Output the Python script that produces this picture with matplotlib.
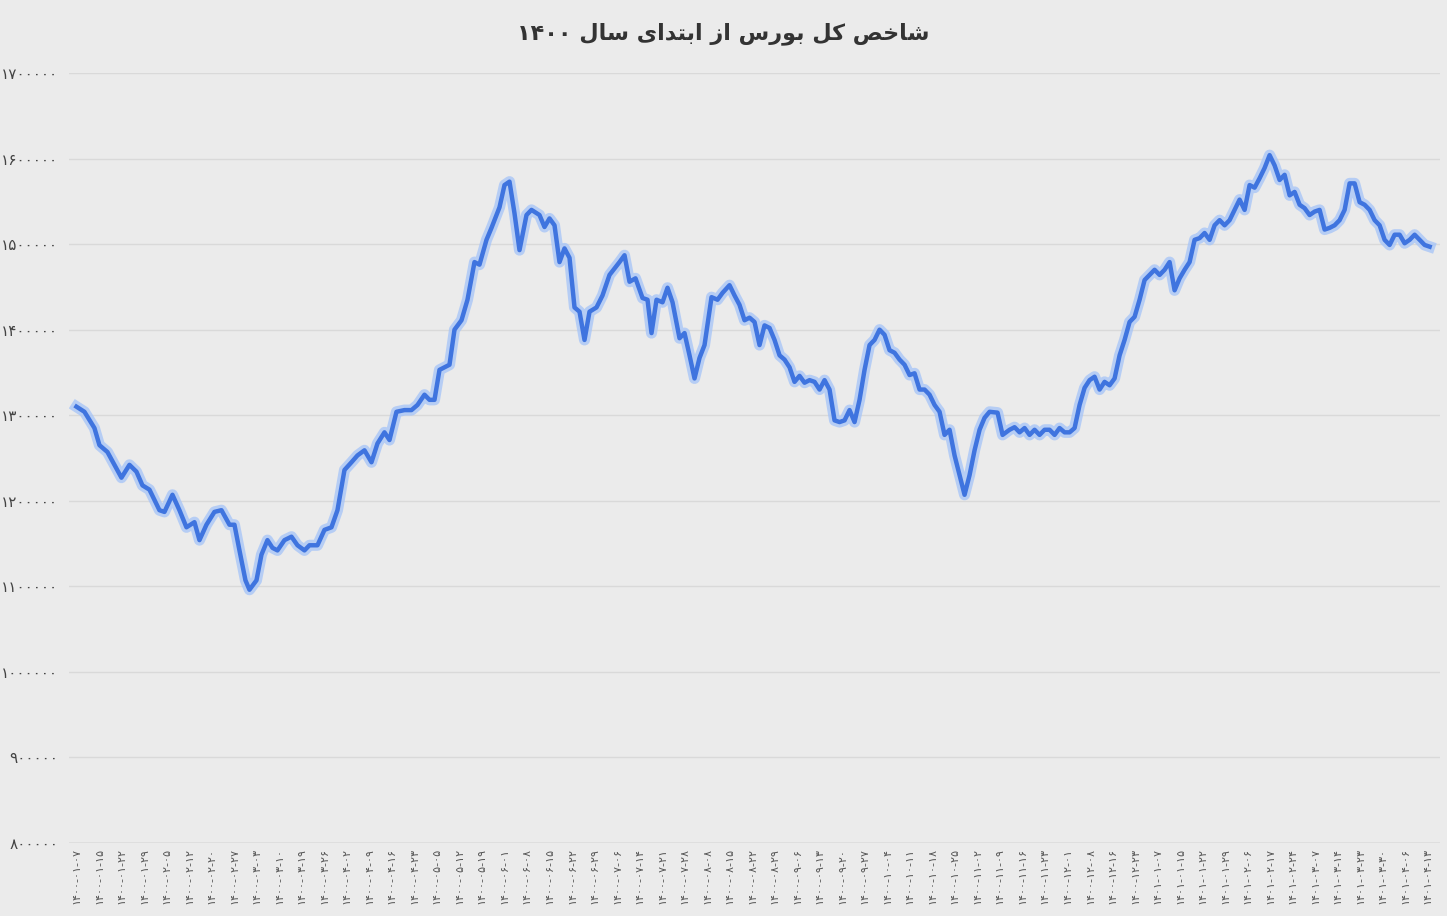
import numpy as np
import matplotlib
matplotlib.use("Agg")
import matplotlib.pyplot as plt

# readings: horizontal reading position (pixels along the date axis) and index value (thousands)
read_pos = [77,85,95,100,108,115,122,130,137,143,150,160,165,173,180,187,195,200,207,215,
222,230,235,240,246,250,257,262,268,273,278,285,292,298,305,310,318,325,332,338,
345,352,358,365,372,378,385,390,397,405,412,418,425,430,435,440,445,450,455,462,
468,475,480,487,492,500,505,510,515,520,527,532,540,545,550,555,560,565,570,575,
580,585,590,597,603,610,620,625,630,636,643,648,652,657,663,668,673,680,685,690,
695,700,705,712,718,723,730,735,740,745,750,755,760,765,770,775,780,785,790,795,
800,805,810,815,820,825,830,835,840,845,850,855,860,865,870,875,880,885,890,895,
900,905,910,915,920,925,930,935,940,945,950,955,960,965,970,975,980,985,990,998,
1003,1010,1015,1020,1025,1030,1035,1040,1045,1050,1055,1060,1065,1070,1075,1080,1085,1090,1095,1100,
1105,1110,1115,1120,1125,1130,1135,1140,1145,1150,1155,1160,1165,1170,1175,1180,1185,1190,1195,1200,
1205,1210,1215,1220,1225,1230,1235,1240,1245,1250,1255,1260,1265,1270,1275,1280,1285,1290,1295,1300,
1305,1310,1315,1320,1325,1330,1335,1340,1345,1350,1355,1360,1365,1370,1375,1380,1385,1390,1395,1400,
1405,1410,1415,1420,1425,1430]
values_k = [1310,1304,1285,1265,1257,1242,1227,1242,1234,1218,1213,1189,1187,1207,1189,1169,1175,1154,1172,1187,
1189,1172,1172,1142,1107,1096,1107,1137,1154,1145,1142,1154,1158,1148,1142,1148,1148,1166,1169,1189,
1236,1245,1253,1259,1245,1267,1280,1271,1304,1306,1306,1312,1324,1318,1318,1353,1356,1359,1400,1411,
1435,1479,1476,1505,1519,1543,1569,1573,1536,1493,1534,1540,1534,1520,1530,1522,1479,1495,1484,1426,
1421,1388,1421,1426,1440,1464,1479,1487,1456,1460,1437,1435,1396,1435,1432,1449,1432,1390,1396,1370,
1343,1367,1382,1438,1435,1443,1452,1440,1429,1411,1414,1409,1382,1405,1402,1388,1370,1365,1356,1339,
1346,1338,1341,1339,1330,1341,1330,1294,1292,1294,1306,1292,1318,1353,1382,1388,1400,1394,1376,1373,
1365,1359,1347,1349,1330,1330,1324,1312,1304,1277,1283,1253,1230,1207,1230,1259,1283,1297,1304,1303,
1277,1283,1286,1280,1285,1277,1283,1277,1283,1283,1277,1285,1280,1280,1285,1312,1332,1341,1345,1330,
1339,1335,1343,1370,1388,1409,1415,1435,1458,1464,1470,1464,1470,1479,1446,1460,1470,1479,1505,1507,
1513,1505,1522,1528,1522,1528,1540,1552,1540,1569,1566,1577,1589,1604,1592,1575,1581,1557,1561,1546,
1542,1534,1538,1540,1517,1519,1522,1528,1540,1571,1571,1549,1546,1540,1528,1522,1505,1499,1511,1511,
1501,1505,1511,1505,1499,1497]

date_labels = ["1400-01-07","1400-01-15","1400-01-22","1400-01-29","1400-02-05","1400-02-12","1400-02-20",
"1400-02-27","1400-03-03","1400-03-10","1400-03-19","1400-03-26","1400-04-02","1400-04-09","1400-04-16",
"1400-04-23","1400-05-05","1400-05-12","1400-05-19","1400-06-01","1400-06-08","1400-06-15","1400-06-22",
"1400-06-29","1400-07-06","1400-07-14","1400-07-21","1400-07-28","1400-08-08","1400-08-15","1400-08-22",
"1400-08-29","1400-09-06","1400-09-13","1400-09-20","1400-09-27","1400-10-04","1400-10-11","1400-10-18",
"1400-10-25","1400-11-02","1400-11-09","1400-11-16","1400-11-23","1400-12-01","1400-12-08","1400-12-16",
"1400-12-23","1401-01-07","1401-01-15","1401-01-22","1401-01-29","1401-02-06","1401-02-17","1401-02-24",
"1401-03-07","1401-03-14","1401-03-23","1401-03-30","1401-04-06","1401-04-13"]
yticks = [800000,900000,1000000,1100000,1200000,1300000,1400000,1500000,1600000,1700000]

values = np.array(values_k) * 1000
# reading position -> date-label index (first label at 77, 22.52 per label)
x = (np.array(read_pos) - 77) / 22.52

fa = str.maketrans("0123456789", "۰۱۲۳۴۵۶۷۸۹")

forms = {
 'ا':('\uFE8D','\uFE8E',None,None),'ب':('\uFE8F','\uFE90','\uFE91','\uFE92'),
 'ت':('\uFE95','\uFE96','\uFE97','\uFE98'),'خ':('\uFEA5','\uFEA6','\uFEA7','\uFEA8'),
 'د':('\uFEA9','\uFEAA',None,None),'ر':('\uFEAD','\uFEAE',None,None),'ز':('\uFEAF','\uFEB0',None,None),
 'س':('\uFEB1','\uFEB2','\uFEB3','\uFEB4'),'ش':('\uFEB5','\uFEB6','\uFEB7','\uFEB8'),
 'ص':('\uFEB9','\uFEBA','\uFEBB','\uFEBC'),'ل':('\uFEDD','\uFEDE','\uFEDF','\uFEE0'),
 'و':('\uFEED','\uFEEE',None,None),'ک':('\uFB8E','\uFB8F','\uFB90','\uFB91'),
 'ی':('\uFBFC','\uFBFD','\uFBFE','\uFBFF')}
def shape_word(w):
    out = []
    for i, c in enumerate(w):
        if c not in forms:
            out.append(c); continue
        f = forms[c]
        prev_joins = i > 0 and w[i-1] in forms and forms[w[i-1]][2] is not None
        next_ok = i < len(w)-1 and w[i+1] in forms and f[2] is not None
        if prev_joins and next_ok: out.append(f[3])
        elif prev_joins: out.append(f[1])
        elif next_ok: out.append(f[2])
        else: out.append(f[0])
    return ''.join(reversed(out)) if any(ch in forms for ch in w) else w
def shape(text):
    return ' '.join(shape_word(w) for w in reversed(text.split(' ')))

title = "شاخص کل بورس از ابتدای سال " + "1400".translate(fa)

fig = plt.figure(figsize=(14.47, 9.16), dpi=100)
fig.patch.set_facecolor('#ebebeb')
ax = fig.add_axes([0.048, 0.0797, 0.947, 0.8406])
ax.set_facecolor('#ebebeb')
ax.plot(x, values, color='#a9c6f7', lw=8, alpha=0.8, solid_joinstyle='round')
ax.plot(x, values, color='#3f74df', lw=3.2, solid_joinstyle='round')
ax.set_xlim(-0.31, 60.53)
ax.set_ylim(800000, 1700000)
ax.set_yticks(yticks)
ax.set_yticklabels([str(v).translate(fa) for v in yticks], fontsize=11, color='#444444',
                   va='center_baseline')
ax.set_xticks(range(len(date_labels)))
ax.set_xticklabels([d.translate(fa) for d in date_labels], rotation=90, fontsize=8, color='#555555')
ax.grid(axis='y', color='#d9d9d9', lw=1)
ax.tick_params(length=0)
ax.tick_params(axis='y', pad=8)
for s in ax.spines.values():
    s.set_visible(False)
ax.axhline(800000, color='#bbbbbb', lw=1)
fig.text(0.5, 0.963, shape(title), ha='center', va='center', fontsize=16, fontweight='bold',
         color='#333333', family=['DejaVu Sans'])
fig.savefig('out.png', dpi=100, facecolor=fig.get_facecolor())
